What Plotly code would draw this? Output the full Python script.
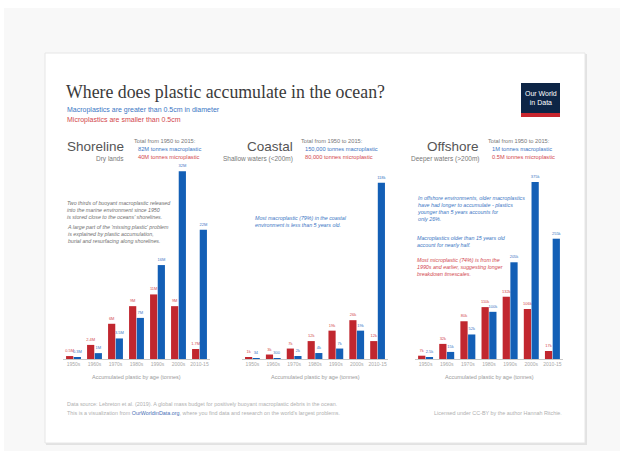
import plotly.graph_objects as go

W, H = 620, 451

# ---- data -------------------------------------------------------------
decades = ["1950s", "1960s", "1970s", "1980s", "1990s", "2000s", "2010-15"]

# Shoreline, million tonnes
shore_micro = [0.5, 2.4, 6, 9, 11, 9, 1.7]
shore_macro = [0.3, 1, 3.5, 7, 16, 32, 22]

# Coastal, thousand tonnes
coast_micro = [1, 3, 7, 12, 19, 26, 12]
coast_macro = [0.034, 0.3, 2, 4, 7, 19, 118]

# Offshore, thousand tonnes
off_micro = [7, 32, 80, 110, 132, 106, 17]
off_macro = [2.5, 15, 52, 100, 205, 375, 255]

# ---- styling ----------------------------------------------------------
RED = "#c1272f"
BLUE = "#135fb6"
RED_TXT = "#d2474e"
BLUE_TXT = "#3b76c4"
GREY = "#5a5a5a"
SANS = "Liberation Sans, Arial"
SERIF = "Liberation Serif, DejaVu Serif, serif"


def px(x):
    return x / W


def py(y):
    return 1 - y / H


def fmt_m(v):
    return f"{v:g}M"


def fmt_k(v):
    return f"{v * 1000:g}" if v < 1 else f"{v:g}k"


panels = [
    # micro, macro, formatter, x-domain (px), y max
    (shore_micro, shore_macro, fmt_m, (63, 210), 35.6),
    (coast_micro, coast_macro, fmt_k, (242, 388), 140),
    (off_micro, off_macro, fmt_k, (415, 563), 443),
]

fig = go.Figure()
layout_axes = {}
for i, (micro, macro, fmtr, (x0, x1), ymax) in enumerate(panels, start=1):
    sfx = "" if i == 1 else str(i)
    for vals, col, tcol, name in [(micro, RED, RED_TXT, "Microplastic"),
                                  (macro, BLUE, BLUE_TXT, "Macroplastic")]:
        fig.add_trace(go.Bar(
            x=decades, y=vals, name=name,
            marker=dict(color=col, line=dict(width=0)),
            text=[fmtr(v) for v in vals], textposition="outside",
            textfont=dict(size=4, color=tcol, family=SANS),
            constraintext="none", cliponaxis=False,
            xaxis="x" + sfx, yaxis="y" + sfx, showlegend=False,
        ))
    layout_axes["xaxis" + sfx] = dict(
        domain=[px(x0), px(x1)], anchor="y" + sfx,
        showline=True, linecolor="#c8c8c8", linewidth=1,
        showgrid=False, ticks="", tickfont=dict(size=5, color="#a8a8a8", family=SANS),
        fixedrange=True,
    )
    layout_axes["yaxis" + sfx] = dict(
        domain=[py(359), py(150)], anchor="x" + sfx, range=[0, ymax],
        visible=False, fixedrange=True,
    )

fig.update_layout(
    width=W, height=H, margin=dict(l=0, r=0, t=0, b=0),
    paper_bgcolor="#f8f8f8", plot_bgcolor="rgba(0,0,0,0)",
    barmode="group", bargap=0.27, bargroupgap=0.06,
    font=dict(family=SANS, color=GREY),
    **layout_axes,
)

shapes = [
    # white strip along the top and left edge
    dict(type="rect", xref="paper", yref="paper", x0=0, x1=1, y0=py(8), y1=1,
         fillcolor="white", line=dict(width=0), layer="below"),
    dict(type="rect", xref="paper", yref="paper", x0=0, x1=px(4), y0=0, y1=1,
         fillcolor="white", line=dict(width=0), layer="below"),
    # card shadow and card
    dict(type="rect", xref="paper", yref="paper", x0=px(46), x1=px(587), y0=py(445), y1=py(54),
         fillcolor="#e2e2e2", line=dict(width=0), layer="below"),
    dict(type="rect", xref="paper", yref="paper", x0=px(45), x1=px(585), y0=py(443), y1=py(53),
         fillcolor="white", line=dict(color="#e6e6e6", width=1), layer="below"),
    # logo
    dict(type="rect", xref="paper", yref="paper", x0=px(521), x1=px(560), y0=py(113), y1=py(83),
         fillcolor="#0d2546", line=dict(width=0)),
    dict(type="rect", xref="paper", yref="paper", x0=px(521), x1=px(560), y0=py(117), y1=py(113),
         fillcolor="#c8262e", line=dict(width=0)),
]
fig.update_layout(shapes=shapes)


def note(x, y, text, size, color=GREY, xanchor="left", yanchor="middle", family=SANS, align="left"):
    fig.add_annotation(x=px(x), y=py(y), xref="paper", yref="paper", text=text,
                       showarrow=False, xanchor=xanchor, yanchor=yanchor, align=align,
                       font=dict(size=size, color=color, family=family))


# title block
note(64, 92, "Where does plastic accumulate in the ocean?", 17.8, "#3a3a3a", family=SERIF)
note(65, 110, "Macroplastics are greater than 0.5cm in diameter", 7, BLUE_TXT)
note(65, 120, "Microplastics are smaller than 0.5cm", 7, RED_TXT)
note(540.5, 98, "Our World<br>in Data", 7, "white", xanchor="center", align="center")

# panel headers
headers = [
    (126, "Shoreline", "Dry lands", 132, "82M tonnes macroplastic", "40M tonnes microplastic"),
    (295, "Coastal", "Shallow waters (<200m)", 299, "150,000 tonnes macroplastic", "80,000 tonnes microplastic"),
    (481, "Offshore", "Deeper waters (>200m)", 486, "1M tonnes macroplastic", "0.5M tonnes microplastic"),
]
for xr, big, sub, xt, macro_txt, micro_txt in headers:
    note(xr, 146, big, 13.5, "#555555", xanchor="right")
    note(xr, 159, sub, 6.5, "#777777", xanchor="right")
    note(xt, 141, "Total from 1950 to 2015:", 5.7, "#777777")
    note(xt + 4, 149, macro_txt, 5.7, BLUE_TXT)
    note(xt + 4, 157, micro_txt, 5.7, RED_TXT)

# axis captions
for x0, x1 in [(63, 210), (242, 388), (415, 563)]:
    note((x0 + x1) / 2, 377, "Accumulated plastic by age (tonnes)", 5.5, "#9a9a9a", xanchor="center")

# explanatory notes
note(65, 198, "<i>Two thirds of buoyant macroplastic released<br>into the marine environment since 1950<br>"
              "is stored close to the oceans' shorelines.</i>", 5.3, "#707070", yanchor="top")
note(65, 222, "<i>A large part of the 'missing plastic' problem<br>is explained by plastic accumulation,<br>"
              "burial and resurfacing along shorelines.</i>", 5.3, "#707070", yanchor="top")
note(253, 213, "<i>Most macroplastic (79%) in the coastal<br>environment is less than 5 years old.</i>",
     5.3, BLUE_TXT, yanchor="top")
note(415, 193, "<i>In offshore environments, older macroplastics<br>have had longer to accumulate - plastics<br>"
               "younger than 5 years accounts for<br>only 26%.</i>", 5.3, BLUE_TXT, yanchor="top")
note(415, 233, "<i>Macroplastics older than 15 years old<br>account for nearly half.</i>", 5.3, BLUE_TXT,
     yanchor="top")
note(415, 255, "<i>Most microplastic (74%) is from the<br>1990s and earlier, suggesting longer<br>"
               "breakdown timescales.</i>", 5.3, RED_TXT, yanchor="top")

# footer
note(65, 404, "Data source: Lebreton et al. (2019). A global mass budget for positively buoyant macroplastic "
              "debris in the ocean.", 5.4, "#b0b0b0")
note(65, 413, "This is a visualization from <span style='color:#4a6fb5'>OurWorldinData.org</span>, where you "
              "find data and research on the world's largest problems.", 5.4, "#b0b0b0")
note(564, 413, "Licensed under CC-BY by the author Hannah Ritchie.", 5.4, "#b0b0b0", xanchor="right")

fig.write_html("out.html")
